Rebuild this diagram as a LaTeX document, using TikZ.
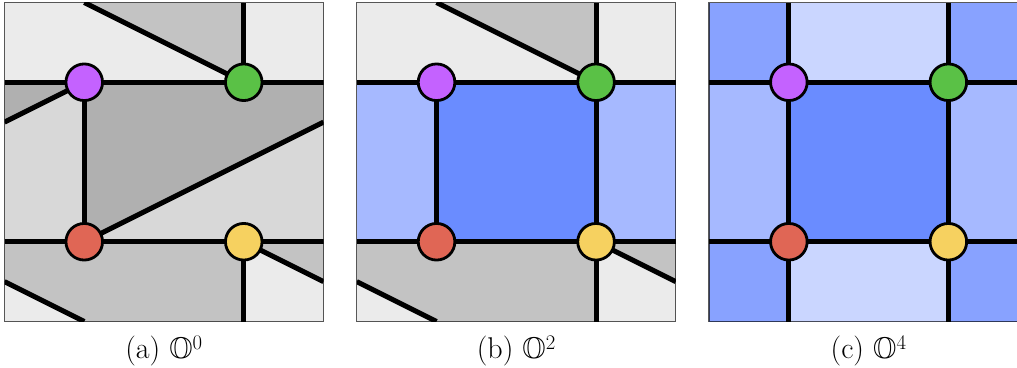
\documentclass[tikz,border=0pt]{standalone}
\usepackage{amssymb}
\pgfdeclarelayer{fills}
\pgfdeclarelayer{lines}
\pgfsetlayers{fills,lines,main}
\definecolor{gL}{RGB}{235,235,235}
\definecolor{gML}{RGB}{216,216,216}
\definecolor{gM}{RGB}{195,195,195}
\definecolor{gD}{RGB}{176,176,176}
\definecolor{bD}{RGB}{106,140,255}
\definecolor{bL}{RGB}{166,185,255}
\definecolor{bC}{RGB}{136,162,255}
\definecolor{bP}{RGB}{202,214,255}
\definecolor{cPur}{RGB}{196,98,255}
\definecolor{cGre}{RGB}{90,193,70}
\definecolor{cRed}{RGB}{224,102,85}
\definecolor{cYel}{RGB}{246,209,96}
\tikzset{
  vert/.style={circle,draw=black,line width=2.8pt,minimum size=36.6pt,inner sep=0pt,outer sep=0pt},
  seam/.style={line width=5pt,draw=black},
  frame/.style={draw=black,draw opacity=0.65,line width=1.3pt},
  caption/.style={font=\fontsize{30}{36}\selectfont,anchor=base,inner sep=0pt},
}
\newcommand{\panelpoints}[1]{%
  \coordinate (#1T1) at (1,0); \coordinate (#1T3) at (3,0);
  \coordinate (#1L1) at (0,1); \coordinate (#1R1) at (4,1);
  \coordinate (#1L3) at (0,3); \coordinate (#1R3) at (4,3);
  \coordinate (#1Lm) at (0,1.5); \coordinate (#1Rm) at (4,1.5);
  \coordinate (#1Lb) at (0,3.5); \coordinate (#1Rb) at (4,3.5);
  \coordinate (#1B1) at (1,4); \coordinate (#1B3) at (3,4);
  \node[vert,fill=cPur] (#1P) at (1,1) {};
  \node[vert,fill=cGre] (#1G) at (3,1) {};
  \node[vert,fill=cRed] (#1R) at (1,3) {};
  \node[vert,fill=cYel] (#1Y) at (3,3) {};
}
\newcommand{\graytop}{%
  \fill[gL] (0,0) -- (1,0) -- (3,1) -- (0,1) -- cycle;
  \fill[gM] (1,0) -- (3,0) -- (3,1) -- cycle;
  \fill[gL] (3,0) rectangle (4,1);
}
\newcommand{\graybottom}{%
  \fill[gM] (0,3) -- (3,3) -- (3,4) -- (1,4) -- (0,3.5) -- cycle;
  \fill[gM] (3,3) -- (4,3) -- (4,3.5) -- cycle;
  \fill[gL] (0,3.5) -- (1,4) -- (0,4) -- cycle;
  \fill[gL] (3,3) -- (4,3.5) -- (4,4) -- (3,4) -- cycle;
}
\begin{document}
\begin{tikzpicture}[x=1pt,y=-1pt]
\useasboundingbox (0,0) rectangle (1017,367);
\clip (0,0) rectangle (1017,367);

% ---------------- panel (a)
\begin{scope}[shift={(4.5,2.5)},x=79.75pt,y=-79.75pt]
  \panelpoints{a}
  \begin{pgfonlayer}{fills}
    \graytop
    \fill[gD] (0,1) -- (1,1) -- (0,1.5) -- cycle;
    \fill[gML] (0,1.5) -- (1,1) -- (1,3) -- (0,3) -- cycle;
    \fill[gD] (1,1) -- (4,1) -- (4,1.5) -- (1,3) -- cycle;
    \fill[gML] (1,3) -- (4,1.5) -- (4,3) -- cycle;
    \graybottom
    \draw[frame] (0,0) rectangle (4,4);
  \end{pgfonlayer}
  \begin{pgfonlayer}{lines}
    \begin{scope}
      \clip (0,0) rectangle (4,4);
      \draw[seam] (aL1) -- (aP.center) -- (aG.center) -- (aR1);
      \draw[seam] (aL3) -- (aR.center) -- (aY.center) -- (aR3);
      \draw[seam] (aP.center) -- (aR.center);
      \draw[seam] (aT3) -- (aG.center);
      \draw[seam] (aY.center) -- (aB3);
      \draw[seam] (aT1) -- (aG.center);
      \draw[seam] (aP.center) -- (aLm);
      \draw[seam] (aR.center) -- (aRm);
      \draw[seam] (aY.center) -- (aRb);
      \draw[seam] (aLb) -- (aB1);
    \end{scope}
  \end{pgfonlayer}
  \node[caption] (aCap) at (2,4.458) {(a) $\mathbb{O}^0$};
\end{scope}

% ---------------- panel (b)
\begin{scope}[shift={(356.8,2.5)},x=79.75pt,y=-79.75pt]
  \panelpoints{b}
  \begin{pgfonlayer}{fills}
    \graytop
    \fill[bL] (0,1) rectangle (1,3);
    \fill[bD] (1,1) rectangle (3,3);
    \fill[bL] (3,1) rectangle (4,3);
    \graybottom
    \draw[frame] (0,0) rectangle (4,4);
  \end{pgfonlayer}
  \begin{pgfonlayer}{lines}
    \begin{scope}
      \clip (0,0) rectangle (4,4);
      \draw[seam] (bL1) -- (bP.center) -- (bG.center) -- (bR1);
      \draw[seam] (bL3) -- (bR.center) -- (bY.center) -- (bR3);
      \draw[seam] (bP.center) -- (bR.center);
      \draw[seam] (bT3) -- (bG.center) -- (bY.center) -- (bB3);
      \draw[seam] (bT1) -- (bG.center);
      \draw[seam] (bY.center) -- (bRb);
      \draw[seam] (bLb) -- (bB1);
    \end{scope}
  \end{pgfonlayer}
  \node[caption] (bCap) at (2,4.458) {(b) $\mathbb{O}^2$};
\end{scope}

% ---------------- panel (c)
\begin{scope}[shift={(709.1,2.5)},x=79.75pt,y=-79.75pt]
  \panelpoints{c}
  \begin{pgfonlayer}{fills}
    \fill[bC] (0,0) rectangle (1,1);
    \fill[bP] (1,0) rectangle (3,1);
    \fill[bC] (3,0) rectangle (4,1);
    \fill[bL] (0,1) rectangle (1,3);
    \fill[bD] (1,1) rectangle (3,3);
    \fill[bL] (3,1) rectangle (4,3);
    \fill[bC] (0,3) rectangle (1,4);
    \fill[bP] (1,3) rectangle (3,4);
    \fill[bC] (3,3) rectangle (4,4);
    \draw[frame] (0,0) rectangle (4,4);
  \end{pgfonlayer}
  \begin{pgfonlayer}{lines}
    \begin{scope}
      \clip (0,0) rectangle (4,4);
      \draw[seam] (cL1) -- (cP.center) -- (cG.center) -- (cR1);
      \draw[seam] (cL3) -- (cR.center) -- (cY.center) -- (cR3);
      \draw[seam] (cT1) -- (cP.center) -- (cR.center) -- (cB1);
      \draw[seam] (cT3) -- (cG.center) -- (cY.center) -- (cB3);
    \end{scope}
  \end{pgfonlayer}
  \node[caption] (cCap) at (2,4.458) {(c) $\mathbb{O}^4$};
\end{scope}
\end{tikzpicture}
\end{document}
